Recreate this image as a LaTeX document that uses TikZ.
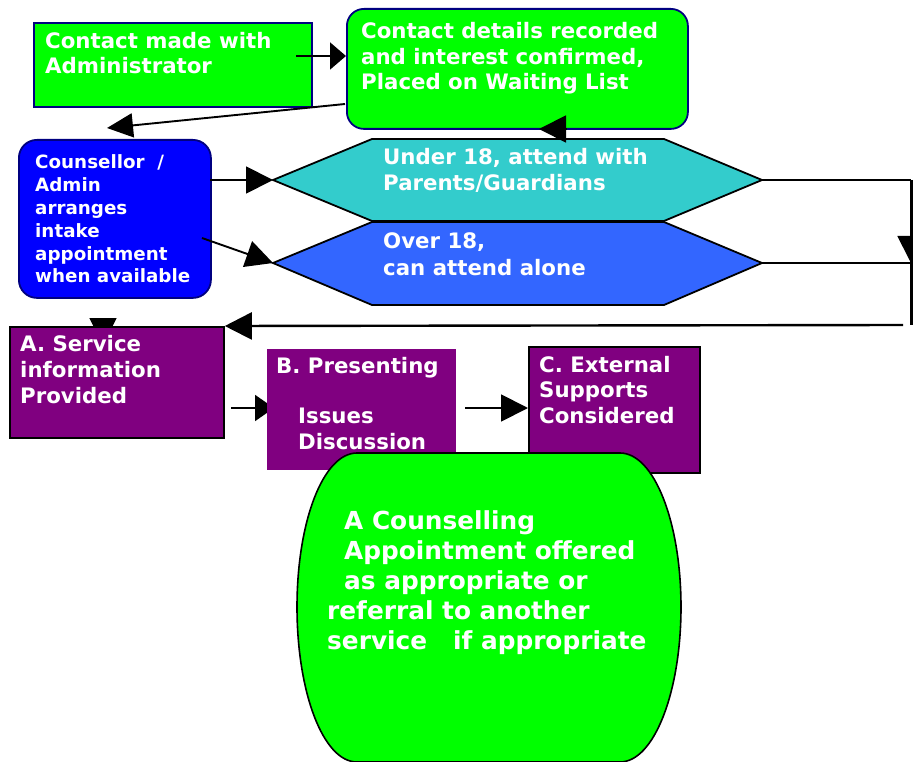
\documentclass[tikz,border=0pt]{standalone}
\usepackage{fontspec}
\setmainfont{DejaVu Sans}
\usepackage{xcolor}
\usetikzlibrary{arrows.meta,calc}
\definecolor{lime}{HTML}{00FF00}
\definecolor{navyb}{HTML}{000080}
\definecolor{royal}{HTML}{0000FF}
\definecolor{teal1}{HTML}{33CCCC}
\definecolor{sky1}{HTML}{3366FF}
\definecolor{plum1}{HTML}{800080}
\newcommand{\txtmain}{\fontsize{21.3}{25.5}\selectfont\bfseries}
\newcommand{\txtcoun}{\fontsize{18.3}{23}\selectfont\bfseries}
\newcommand{\txtbarrel}{\fontsize{24.8}{30}\selectfont\bfseries}
% texts are placed by the baseline of their last line
\tikzstyle{box}=[anchor=north west, inner sep=0pt, line width=1.8pt]
\tikzstyle{txt}=[anchor=base west, inner sep=0pt, align=left, text=white, font=\txtmain]
\tikzstyle{tip>}=[-{Triangle[length=27pt,width=27pt]}, line width=1.9pt]

\begin{document}
\begin{tikzpicture}[x=1pt,y=-1pt]
\useasboundingbox (0,0) rectangle (913,762);
\clip (0,0) rectangle (913,762);
% top row
\node[box, fill=lime, draw=navyb, minimum width=278, minimum height=84] (admin) at (33,22) {};
\node[txt] (admintxt) at (45,74) {Contact made with\\Administrator};
\node[box, fill=lime, draw=navyb, rounded corners=17pt, minimum width=341, minimum height=120] (wait) at (346,8) {};
\node[txt] (waittxt) at (361,90) {Contact details recorded\\and interest confirmed,\\Placed on Waiting List};
% counsellor
\node[box, fill=royal, draw=navyb, rounded corners=18pt, minimum width=192, minimum height=158] (coun) at (18,139) {};
\node[txt, font=\txtcoun] (countxt) at (35,283) {Counsellor\ \ /\\Admin\\arranges\\intake\\appointment\\when available};
% age options
\draw[fill=teal1, line width=1.8pt] (273,180) coordinate (u18w) -- (372,139) -- (664,139)
  -- (762,180) coordinate (u18e) -- (664,221) -- (372,221) -- cycle;
\node[txt, font=\fontsize{21.3}{26}\selectfont\bfseries] (u18txt) at (383,191) {Under 18, attend with\\Parents/Guardians};
\draw[fill=sky1, line width=1.8pt] (273,263) coordinate (o18w) -- (372,222) -- (664,222)
  -- (762,263) coordinate (o18e) -- (664,305) -- (372,305) -- cycle;
\node[txt, font=\fontsize{21.3}{27}\selectfont\bfseries] (o18txt) at (383,275) {Over 18,\\can attend alone};
% intake steps
\coordinate (astub) at (103,318);
\coordinate (astub2) at (103,345);
\draw[tip>] (astub) -- (astub2);
\node[box, fill=plum1, draw=black, minimum width=214, minimum height=111] (svc) at (9,326) {};
\node[txt, font=\fontsize{21.3}{26}\selectfont\bfseries] (svctxt) at (20,403) {A. Service\\information\\Provided};
\coordinate (ab1) at (231,408);
\draw[tip>, -{Triangle[length=19pt,width=26pt]}] (ab1) -- (274,408);
\node[box, fill=plum1, minimum width=189, minimum height=121] (pres) at (266,348) {};
\node[txt, font=\fontsize{21.3}{26}\selectfont\bfseries] (prestxt) at (276,449) {B. Presenting\\[24pt]\hspace*{22pt}Issues\\\hspace*{22pt}Discussion};
\node[box, fill=plum1, draw=black, minimum width=171, minimum height=126] (ext) at (528,346) {};
\node[txt] (exttxt) at (539,423) {C. External\\Supports\\Considered};
\coordinate (bc1) at (465,408);
\draw[tip>] (bc1) -- (ext.west |- bc1);
% outcome
\draw[fill=lime, line width=1.6pt] (357,453) coordinate (outn) -- (620,453)
  .. controls (654,453) and (681,522) .. (681,607)
  .. controls (681,692) and (654,762) .. (620,762) -- (357,762)
  .. controls (323,762) and (297,692) .. (297,607)
  .. controls (297,522) and (323,453) .. (357,453) -- cycle;
\node[txt, font=\txtbarrel] (outtxt) at (327,649) {\hspace*{17pt}A Counselling\\\hspace*{17pt}Appointment offered\\\hspace*{17pt}as appropriate or\\referral to another\\service\ \ \ if appropriate};
% connectors
\coordinate (a1) at (296,56);
\draw[tip>, -{Triangle[length=16pt,width=27pt]}] (a1) -- (wait.west |- a1);
\coordinate (w1) at (345,104);
\coordinate (c1) at (107,128);
\draw[tip>, -{Triangle[length=26pt,width=24pt]}] (w1) -- (c1);
\coordinate (k1) at (210,180);
\draw[tip>] (k1) -- (u18w);
\coordinate (k2) at (202,238);
\draw[tip>] (k2) -- (o18w);
\coordinate (ws1) at (566,129);
\coordinate (ws2) at (539,129);
\draw[tip>] (ws1) -- (ws2);
% right return line
\coordinate (rtop) at (911,180);
\coordinate (rmid) at (911,263);
\coordinate (rbot) at (911,325);
\coordinate (redge) at (914,263);
\coordinate (bend) at (903,325);
\draw[line width=2.4pt] (u18e) -- (rtop);
\draw[line width=3pt] (rtop) -- (rbot);
\draw[tip>] ($(rmid)+(0,-28)$) -- (rmid);
\draw[line width=2.2pt] (o18e) -- (redge);
\draw[tip>, line width=2.4pt] (bend) -- (svc.north east);
\end{tikzpicture}
\end{document}
